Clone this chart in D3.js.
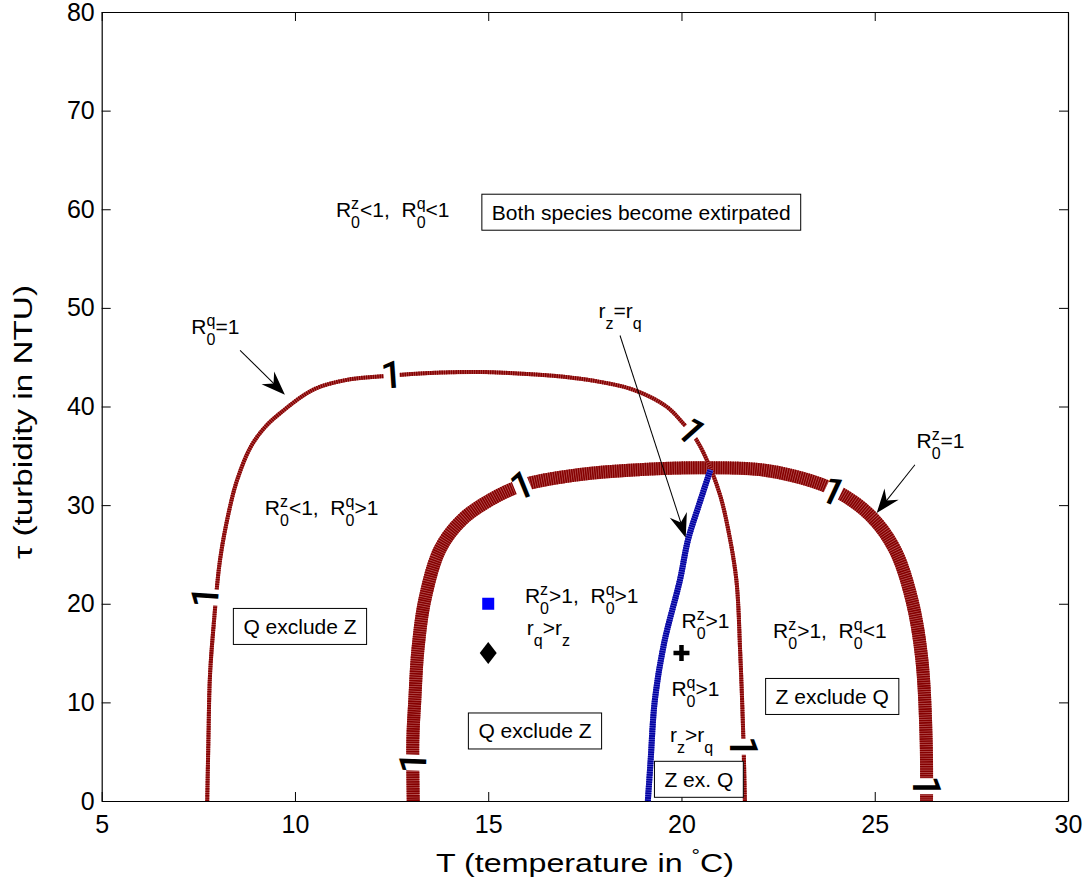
<!DOCTYPE html>
<html>
<head>
<meta charset="utf-8">
<title>Competition regions</title>
<style>
  body, html { margin: 0; padding: 0; background: #fff; }
  text { font-family: "Liberation Sans", Arial, sans-serif; fill: #000; }
</style>
</head>
<body>
<svg id="svg" width="1089" height="888"></svg>
<script src="https://cdn.jsdelivr.net/npm/d3@7/dist/d3.min.js"></script>
<script>
// ticks
const xTicks = [5, 10, 15, 20, 25, 30]
const yTicks = [0, 10, 20, 30, 40, 50, 60, 70, 80]

// R0^q = 1 contour (T, tau)
const rqT   = [7.73, 7.76, 7.80, 7.90, 8.06, 8.30, 8.50, 8.84, 9.20, 9.61, 10.47, 11.34, 12.37, 13.5, 14.79, 16.0, 17.0, 17.89, 18.75, 19.61, 20.04, 20.39, 20.73, 21.0, 21.21, 21.42, 21.52, 21.60, 21.64]
const rqTau = [0, 6, 12.6, 18, 24.4, 29.5, 32.5, 35.8, 37.8, 39.3, 41.7, 42.7, 43.1, 43.4, 43.5, 43.3, 43.0, 42.5, 41.7, 40.0, 38.3, 36.6, 33.9, 31.0, 27.5, 22.4, 15, 6.5, 0]

// R0^z = 1 contour
const rzT   = [13.06, 13.05, 13.10, 13.18, 13.36, 13.75, 14.32, 15.04, 15.87, 17.37, 18.93, 20.48, 22.03, 23.06, 23.97, 24.87, 25.52, 25.96, 26.22, 26.33, 26.34]
const rzTau = [0, 6.2, 10.2, 15.3, 20.4, 25.5, 28.5, 30.5, 32.0, 33.1, 33.6, 33.8, 33.6, 32.8, 31.5, 29.0, 25.5, 20.4, 14.3, 6.2, 0]

// r_z = r_q curve
const eqT   = [19.13, 19.20, 19.31, 19.55, 19.96, 20.17, 20.45, 20.75]
const eqTau = [0, 4, 10.2, 16, 22.4, 26.5, 30, 33.6]

// contour labels "1": [T, tau, angle]
const rqLabels = [[7.68, 20.7, -86], [12.5, 43.2, -4], [20.26, 37.5, 48], [21.60, 5.5, 90]]
const rzLabels = [[13.06, 3.9, -88], [15.87, 32.0, -22], [23.92, 31.4, 25], [26.33, 1.5, 90]]

// markers
const squarePt = [15, 20]
const diamondPt = [15, 15]
const plusPt = [20, 15]

// annotation arrows [T0, tau0, T1, tau1]
const arrows = [[8.58, 45.7, 9.74, 41.2], [18.41, 47.2, 20.11, 26.7], [26.04, 34.1, 25.05, 29.2]]

// rich labels: parts are plain text or stacked sup/sub
const richLabels = [
  {at: [11.06, 59.2], parts: ["R", ["z", "0"], "<1,  R", ["q", "0"], "<1"]},
  {at: [7.32, 47.4], parts: ["R", ["q", "0"], "=1"]},
  {at: [9.22, 29.0], parts: ["R", ["z", "0"], "<1,  R", ["q", "0"], ">1"]},
  {at: [15.95, 20.1], parts: ["R", ["z", "0"], ">1,  R", ["q", "0"], ">1"]},
  {at: [16.0, 16.8], parts: ["r", [null, "q"], ">r", [null, "z"]]},
  {at: [20.0, 17.5], parts: ["R", ["z", "0"], ">1"]},
  {at: [19.74, 10.6], parts: ["R", ["q", "0"], ">1"]},
  {at: [19.70, 6.0], parts: ["r", [null, "z"], ">r", [null, "q"]]},
  {at: [22.37, 16.5], parts: ["R", ["z", "0"], ">1,  R", ["q", "0"], "<1"]},
  {at: [26.08, 35.8], parts: ["R", ["z", "0"], "=1"]},
  {at: [17.85, 49.0], parts: ["r", [null, "z"], "=r", [null, "q"]]}
]

// boxed labels [text, T centre, tau centre]
const boxes = [
  ["Both species become extirpated", 18.96, 59.7],
  ["Q exclude Z", 10.13, 17.7],
  ["Q exclude Z", 16.21, 7.1],
  ["Z ex. Q", 20.45, 2.2],
  ["Z exclude Q", 23.90, 10.6]
]

const svg = d3.select('#svg')
const x = d3.scaleLinear().domain([5, 30]).range([101.7, 1068])
const y = d3.scaleLinear().domain([0, 80]).range([801, 12])

// axes with inward ticks on all four sides
svg.append('g').attr('transform', 'translate(0,801)')
  .call(d3.axisBottom(x).tickValues(xTicks).tickSizeInner(-9).tickSizeOuter(0).tickPadding(14))
svg.append('g').attr('transform', 'translate(101.7,0)')
  .call(d3.axisLeft(y).tickValues(yTicks).tickSizeInner(-9).tickSizeOuter(0).tickPadding(7))
svg.append('g').attr('transform', 'translate(0,12)')
  .call(d3.axisTop(x).tickValues(xTicks).tickSizeInner(-9).tickSizeOuter(0).tickFormat(''))
svg.append('g').attr('transform', 'translate(1068,0)')
  .call(d3.axisRight(y).tickValues(yTicks).tickSizeInner(-9).tickSizeOuter(0).tickFormat(''))
svg.selectAll('.tick text').style('font-size', '25px').style('font-family', '"Liberation Sans", Arial, sans-serif')
svg.selectAll('.domain').attr('stroke', '#000').attr('stroke-width', 1.2)

// mask to break contour lines under their labels
const mask = svg.append('defs').append('mask').attr('id', 'gaps')
  .attr('maskUnits', 'userSpaceOnUse').attr('x', 0).attr('y', 0).attr('width', 1089).attr('height', 888)
mask.append('rect').attr('width', 1089).attr('height', 888).attr('fill', '#fff')
mask.selectAll('rect.gap').data(rqLabels.concat(rzLabels)).enter().append('rect')
  .attr('class', 'gap')
  .attr('x', -8).attr('y', -24).attr('width', 16).attr('height', 48)
  .attr('fill', '#000')
  .attr('transform', d => `translate(${x(d[0])},${y(d[1])}) rotate(${d[2]})`)

const line = d3.line().x(d => x(d[0])).y(d => y(d[1])).curve(d3.curveCatmullRom.alpha(0.5))
const curves = svg.append('g').attr('mask', 'url(#gaps)')

function hatched(g, pts, w, base, dark) {
  g.append('path').attr('d', line(pts)).attr('fill', 'none')
    .attr('stroke', base).attr('stroke-width', w)
  g.append('path').attr('d', line(pts)).attr('fill', 'none')
    .attr('stroke', dark).attr('stroke-width', w).attr('stroke-dasharray', '1.6 0.7')
}
hatched(curves, d3.zip(rzT, rzTau), 13, '#b85858', '#850000')
hatched(curves, d3.zip(rqT, rqTau), 4, '#b85858', '#850000')
hatched(svg, d3.zip(eqT, eqTau), 6, '#5a5ad0', '#0000a0')

// contour labels
svg.selectAll('text.clab').data(rqLabels.concat(rzLabels)).enter().append('text')
  .attr('class', 'clab')
  .attr('text-anchor', 'middle').attr('dominant-baseline', 'central')
  .style('font-family', 'Roboto, "Open Sans", sans-serif')
  .style('font-weight', 500)
  .style('font-size', '38px')
  .attr('transform', d => `translate(${x(d[0])},${y(d[1])}) rotate(${d[2]})`)
  .text('1')

// arrows
arrows.forEach(a => {
  const x0 = x(a[0]), y0 = y(a[1]), x1 = x(a[2]), y1 = y(a[3])
  const ang = Math.atan2(y1 - y0, x1 - x0) * 180 / Math.PI
  const len = Math.hypot(x1 - x0, y1 - y0)
  const g = svg.append('g').attr('transform', `translate(${x0},${y0}) rotate(${ang})`)
  g.append('line').attr('x1', 0).attr('y1', 0).attr('x2', len - 12).attr('y2', 0)
    .attr('stroke', '#000').attr('stroke-width', 1)
  g.append('path')
    .attr('d', `M${len},0 L${len - 24},-9 L${len - 16},0 L${len - 24},9 Z`)
    .attr('fill', '#000')
})

// markers
svg.append('rect').attr('x', x(squarePt[0]) - 6).attr('y', y(squarePt[1]) - 6)
  .attr('width', 12).attr('height', 12).attr('fill', '#0000ff')
svg.append('path').attr('transform', `translate(${x(diamondPt[0])},${y(diamondPt[1])})`)
  .attr('d', 'M0,-11 L8.5,0 L0,11 L-8.5,0 Z').attr('fill', '#000')
svg.append('path').attr('transform', `translate(${x(plusPt[0])},${y(plusPt[1])})`)
  .attr('d', 'M-8,0 H8 M0,-8 V8').attr('stroke', '#000').attr('stroke-width', 4.5)

// rich text (R with stacked super/subscripts)
richLabels.forEach(lab => {
  let cx = x(lab.at[0])
  const by = y(lab.at[1])
  lab.parts.forEach(p => {
    if (typeof p === 'string') {
      const t = svg.append('text').attr('x', cx).attr('y', by).style('font-size', '21px')
        .attr('xml:space', 'preserve').style('white-space', 'pre').text(p)
      cx += t.node().getComputedTextLength()
    } else {
      let w = 0
      if (p[0]) {
        const s = svg.append('text').attr('x', cx).attr('y', by - 8).style('font-size', '16px').text(p[0])
        w = Math.max(w, s.node().getComputedTextLength())
      }
      if (p[1]) {
        const s = svg.append('text').attr('x', cx).attr('y', by + 11).style('font-size', '16px').text(p[1])
        w = Math.max(w, s.node().getComputedTextLength())
      }
      cx += w
    }
  })
})

// boxed labels
boxes.forEach(b => {
  const cx = x(b[1]), cy = y(b[2])
  const g = svg.append('g')
  const t = g.append('text').attr('x', cx).attr('y', cy).attr('text-anchor', 'middle')
    .attr('dominant-baseline', 'central').style('font-size', '21px').text(b[0])
  const w = t.node().getComputedTextLength()
  g.insert('rect', 'text').attr('x', cx - w / 2 - 10).attr('y', cy - 18)
    .attr('width', w + 20).attr('height', 36)
    .attr('fill', '#fff').attr('stroke', '#000').attr('stroke-width', 1)
})

// axis titles
const xl = svg.append('text').attr('x', 585).attr('y', 872).attr('text-anchor', 'middle')
  .style('font-size', '26px').attr('textLength', 298).attr('lengthAdjust', 'spacingAndGlyphs')
xl.append('tspan').text('T (temperature in ')
xl.append('tspan').attr('dy', -11).style('font-size', '17px').text('°')
xl.append('tspan').attr('dy', 11).text('C)')

svg.append('text').attr('transform', 'translate(32,422) rotate(-90)')
  .attr('text-anchor', 'middle').style('font-size', '26px')
  .attr('textLength', 274).attr('lengthAdjust', 'spacingAndGlyphs')
  .text('τ (turbidity in NTU)')
</script>
</body>
</html>
